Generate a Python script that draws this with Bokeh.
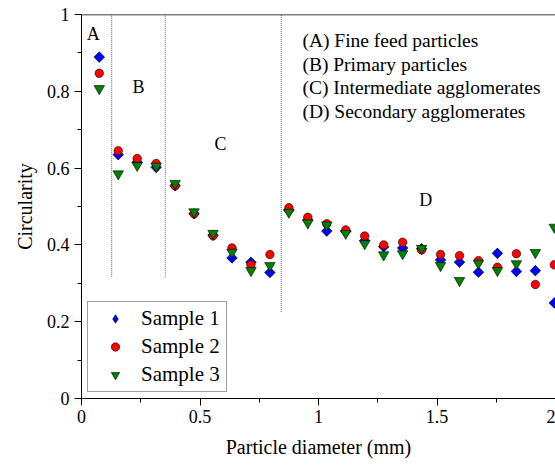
from bokeh.plotting import figure
from bokeh.models import Range1d, SingleIntervalTicker, Span, Legend, LegendItem
from bokeh.core.properties import value
from bokeh.embed import file_html
from bokeh.resources import INLINE
import math

# ---- data ----
diameter = [0.075, 0.155, 0.235, 0.315, 0.395, 0.475, 0.555, 0.635, 0.715, 0.795,
            0.875, 0.955, 1.035, 1.115, 1.195, 1.275, 1.355, 1.435, 1.515, 1.595,
            1.675, 1.755, 1.835, 1.915, 1.995]
sample1 = [0.889, 0.635, 0.615, 0.602, 0.554, 0.481, 0.425, 0.366, 0.355, 0.328,
           0.490, 0.465, 0.436, 0.435, 0.411, 0.395, 0.392, 0.390, 0.361, 0.355,
           0.329, 0.378, 0.331, 0.333, 0.249]
sample2 = [0.847, 0.645, 0.625, 0.612, 0.554, 0.481, 0.424, 0.392, 0.348, 0.375,
           0.497, 0.472, 0.455, 0.439, 0.423, 0.400, 0.407, 0.387, 0.375, 0.372,
           0.359, 0.342, 0.377, 0.297, 0.348]
sample3 = [0.807, 0.585, 0.607, 0.605, 0.560, 0.486, 0.430, 0.381, 0.333, 0.346,
           0.485, 0.457, 0.452, 0.430, 0.403, 0.374, 0.377, 0.391, 0.346, 0.307,
           0.352, 0.333, 0.351, 0.380, 0.446]
series_names = ["Sample 1", "Sample 2", "Sample 3"]

boundary_x = [0.127, 0.354, 0.843]
boundary_bottom = [0.316, 0.316, 0.225]

region_letters = ["A", "B", "C", "D"]
region_x = [0.05, 0.241, 0.587, 1.453]
region_y = [0.95, 0.81, 0.664, 0.516]

notes = ["(A) Fine feed particles", "(B) Primary particles",
         "(C) Intermediate agglomerates", "(D) Secondary agglomerates"]
notes_x = [0.932, 0.932, 0.932, 0.932]
notes_y = [0.932, 0.871, 0.809, 0.748]

x_ticks = [0, 0.5, 1, 1.5, 2]
x_tick_labels = ["0", "0.5", "1", "1.5", "2"]
y_ticks = [0, 0.2, 0.4, 0.6, 0.8, 1]
y_tick_labels = ["0", "0.2", "0.4", "0.6", "0.8", "1"]

FONT = "Liberation Serif"

p = figure(width=555, height=466, output_backend="svg", toolbar_location=None,
           x_range=Range1d(0, 2), y_range=Range1d(0, 1),
           min_border_left=81, min_border_right=0, min_border_top=14,
           min_border_bottom=68, background_fill_color="white",
           border_fill_color="white")
p.outline_line_color = None
p.grid.visible = False

for ax, ticks, labels, interval in [(p.xaxis[0], x_ticks, x_tick_labels, 0.5),
                                    (p.yaxis[0], y_ticks, y_tick_labels, 0.2)]:
    ax.ticker = SingleIntervalTicker(interval=interval, num_minor_ticks=2)
    ax.major_label_overrides = {t: l for t, l in zip(ticks, labels)}
    ax.axis_line_color = "black"
    ax.major_tick_line_color = "black"
    ax.minor_tick_line_color = "black"
    ax.major_tick_out = 7
    ax.major_tick_in = 0
    ax.minor_tick_out = 4
    ax.minor_tick_in = 0
    ax.major_label_text_font = FONT
    ax.major_label_text_font_size = "18px"
    ax.major_label_text_color = "black"
    ax.axis_label_text_font = FONT
    ax.axis_label_text_font_size = "20px"
    ax.axis_label_text_font_style = "normal"
    ax.axis_label_text_color = "black"

p.xaxis.axis_label = "Particle diameter (mm)"
p.yaxis.axis_label = "Circularity"
p.xaxis.major_label_standoff = 4
p.yaxis.major_label_standoff = 5
p.xaxis.axis_label_standoff = 10
p.yaxis.axis_label_standoff = 8

p.add_layout(Span(location=1, dimension="width", line_color="black", line_width=1.5))

p.segment(x0=boundary_x, y0=boundary_bottom, x1=boundary_x, y1=[1, 1, 1],
          line_color="#808080", line_width=1.2, line_dash="1 1")

p.text(x=region_x, y=region_y, text=region_letters, text_font=value(FONT),
       text_font_size=value("18px"), text_align="center",
       text_baseline="middle", text_color="black")
p.text(x=notes_x, y=notes_y, text=notes, text_font=value(FONT),
       text_font_size=value("19.5px"), text_align="left",
       text_baseline="middle", text_color="black")

# legend key for sample 1: diamond drawn underneath the rotated squares
r1_key = p.scatter(diameter, sample1, marker="diamond", size=9,
                   fill_color="#0000FF", line_color="black", line_width=0.6)
r1 = p.scatter(diameter, sample1, marker="square", angle=math.pi / 4, size=7.5,
               fill_color="#0000FF", line_color="black", line_width=0.6)
r2 = p.scatter(diameter, sample2, marker="circle", size=8.5,
               fill_color="#FF0000", line_color="black", line_width=0.6)
r3 = p.scatter(diameter, sample3, marker="inverted_triangle", size=10.5,
               fill_color="#008000", line_color="black", line_width=0.6)

legend = Legend(items=[LegendItem(label=series_names[0], renderers=[r1_key]),
                       LegendItem(label=series_names[1], renderers=[r2]),
                       LegendItem(label=series_names[2], renderers=[r3])],
                location=(6, 6), margin=0, padding=4, spacing=3,
                glyph_width=46, glyph_height=21, label_height=22,
                label_width=81, label_standoff=3,
                label_text_font=FONT, label_text_font_size="21px",
                label_text_color="black",
                border_line_color="#404040", border_line_width=1,
                background_fill_color="white", background_fill_alpha=1)
p.add_layout(legend)

open("out.html", "w").write(file_html(p, INLINE))
